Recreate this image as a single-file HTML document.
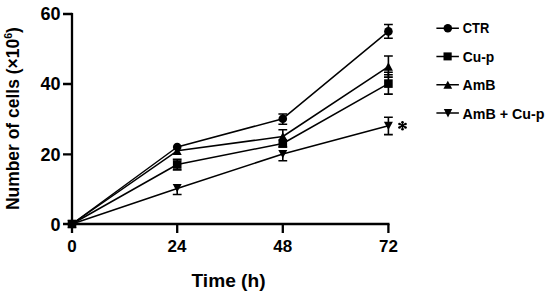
<!DOCTYPE html>
<html>
<head>
<meta charset="utf-8">
<style>
html,body{margin:0;padding:0;background:#fff;width:550px;height:297px;overflow:hidden;}
svg{display:block;}
text{font-family:"Liberation Sans",sans-serif;font-weight:bold;fill:#000;}
</style>
</head>
<body>
<svg width="550" height="297" viewBox="0 0 550 297">

<!-- axes -->
<g stroke="#000" stroke-width="2.3" fill="none" stroke-linecap="butt">
<path d="M72,12.9 V225.1"/>
<path d="M70.9,224 H389.5"/>
<path d="M63,14 H72 M63,84 H72 M63,154.3 H72 M63,224 H72"/>
<path d="M72,224 V233 M177.2,224 V233 M282.8,224 V233 M388.4,224 V233"/>
</g>

<!-- y tick labels -->
<g font-size="18">
<text x="60.5" y="20.2" text-anchor="end">60</text>
<text x="60.5" y="90.4" text-anchor="end">40</text>
<text x="60.5" y="160.7" text-anchor="end">20</text>
<text x="60.5" y="230.6" text-anchor="end">0</text>
</g>
<!-- x tick labels -->
<g font-size="17" text-anchor="middle">
<text x="72" y="251.5">0</text>
<text x="176.9" y="251.5">24</text>
<text x="282.8" y="251.5">48</text>
<text x="388.4" y="251.5">72</text>
</g>

<!-- axis titles -->
<text x="191.5" y="287" font-size="18.5" textLength="74" lengthAdjust="spacingAndGlyphs">Time (h)</text>
<text transform="translate(19.2,210.1) rotate(-90)" font-size="18" textLength="183" lengthAdjust="spacingAndGlyphs">Number of cells (×10<tspan font-size="11" dy="-7">6</tspan><tspan dy="7">)</tspan></text>

<!-- data lines -->
<g stroke="#000" stroke-width="1.5" fill="none" stroke-linejoin="round">
<polyline points="72,224 177.2,147 282.8,118.7 388.4,31.4"/>
<polyline points="72,224 177.2,164.5 282.8,143.5 388.4,83.6"/>
<polyline points="72,224 177.2,150.8 282.8,136.5 388.4,66.6"/>
<polyline points="72,224 177.2,188.5 282.8,154 388.4,125.8"/>
</g>

<!-- error bars -->
<g stroke="#000" stroke-width="1.6" fill="none">
<!-- CTR -->
<path d="M282.8,114 V124.2 M278.4,114 H287.2 M278.4,124.2 H287.2"/>
<path d="M388.4,24.5 V38.3 M384,24.5 H392.8 M384,38.3 H392.8"/>
<!-- Cu-p -->
<path d="M177.2,159.4 V169.9 M172.8,159.4 H181.6 M172.8,169.9 H181.6"/>
<path d="M388.4,72.2 V94.1 M384,72.2 H392.8 M384,94.1 H392.8"/>
<path d="M282.8,140 V147 M278.4,147 H287.2"/>
<!-- AmB -->
<path d="M282.8,129.7 V143 M278.4,129.7 H287.2"/>
<path d="M388.4,56 V77.1 M384,56 H392.8 M384,77.1 H392.8 M384,74.7 H392.8"/>
<!-- AmB+Cu-p -->
<path d="M177.2,188 V194.5 M172.8,194.5 H181.6"/>
<path d="M282.8,150 V160.7 M278.4,160.7 H287.2"/>
<path d="M388.4,117.3 V134.6 M384,117.3 H392.8 M384,134.6 H392.8"/>
</g>

<!-- markers -->
<g fill="#000">
<circle cx="72.0" cy="224.0" r="4.3"/><circle cx="177.2" cy="147.0" r="4.3"/><circle cx="282.8" cy="118.7" r="4.3"/><circle cx="388.4" cy="31.4" r="4.3"/>
<rect x="67.70" y="219.70" width="8.6" height="8.6"/><rect x="172.90" y="160.20" width="8.6" height="8.6"/><rect x="278.50" y="139.20" width="8.6" height="8.6"/><rect x="384.10" y="79.30" width="8.6" height="8.6"/>
<path d="M72.0,219.70 L76.50,228.10 L67.50,228.10 Z"/><path d="M177.2,146.50 L181.70,154.90 L172.70,154.90 Z"/><path d="M282.8,132.20 L287.30,140.60 L278.30,140.60 Z"/><path d="M388.4,62.30 L392.90,70.70 L383.90,70.70 Z"/>
<path d="M72.0,228.30 L76.50,219.90 L67.50,219.90 Z"/><path d="M177.2,192.30 L181.70,183.90 L172.70,183.90 Z"/><path d="M282.8,158.30 L287.30,149.90 L278.30,149.90 Z"/><path d="M388.4,130.10 L392.90,121.70 L383.90,121.70 Z"/>
</g>

<!-- asterisk -->
<g stroke="#000" stroke-width="1.5" stroke-linecap="round"><path d="M402.5,125.7 L402.5,122.2 M402.5,125.7 L405.53,123.95 M402.5,125.7 L405.53,127.45 M402.5,125.7 L402.5,129.2 M402.5,125.7 L399.47,123.95 M402.5,125.7 L399.47,127.45"/></g><g fill="#000"><circle cx="402.5" cy="122.2" r="1.3"/><circle cx="405.53" cy="123.95" r="1.3"/><circle cx="405.53" cy="127.45" r="1.3"/><circle cx="402.5" cy="129.2" r="1.3"/><circle cx="399.47" cy="123.95" r="1.3"/><circle cx="399.47" cy="127.45" r="1.3"/><circle cx="402.5" cy="125.7" r="1.3"/></g>

<!-- legend -->
<g stroke="#000" stroke-width="1.5">
<path d="M436.4,28.3 H458.9 M436.4,56.4 H458.9 M436.4,84.7 H458.9 M436.4,113.1 H458.9"/>
</g>
<g fill="#000">
<circle cx="447.8" cy="28.3" r="4.25"/>
<rect x="443.5" y="52.4" width="8.2" height="8"/>
<path d="M447.8,80.7 L452.2,88.8 L443.4,88.8 Z"/>
<path d="M448,117.4 L452.2,109 L443.8,109 Z"/>
</g>
<g font-size="14.5">
<text x="462.8" y="33.2" textLength="26.5" lengthAdjust="spacingAndGlyphs">CTR</text>
<text x="462.8" y="61.9" textLength="31.5" lengthAdjust="spacingAndGlyphs">Cu-p</text>
<text x="462.5" y="90.2" textLength="33" lengthAdjust="spacingAndGlyphs">AmB</text>
<text x="462.5" y="119" textLength="82" lengthAdjust="spacingAndGlyphs">AmB + Cu-p</text>
</g>
</svg>
</body>
</html>
